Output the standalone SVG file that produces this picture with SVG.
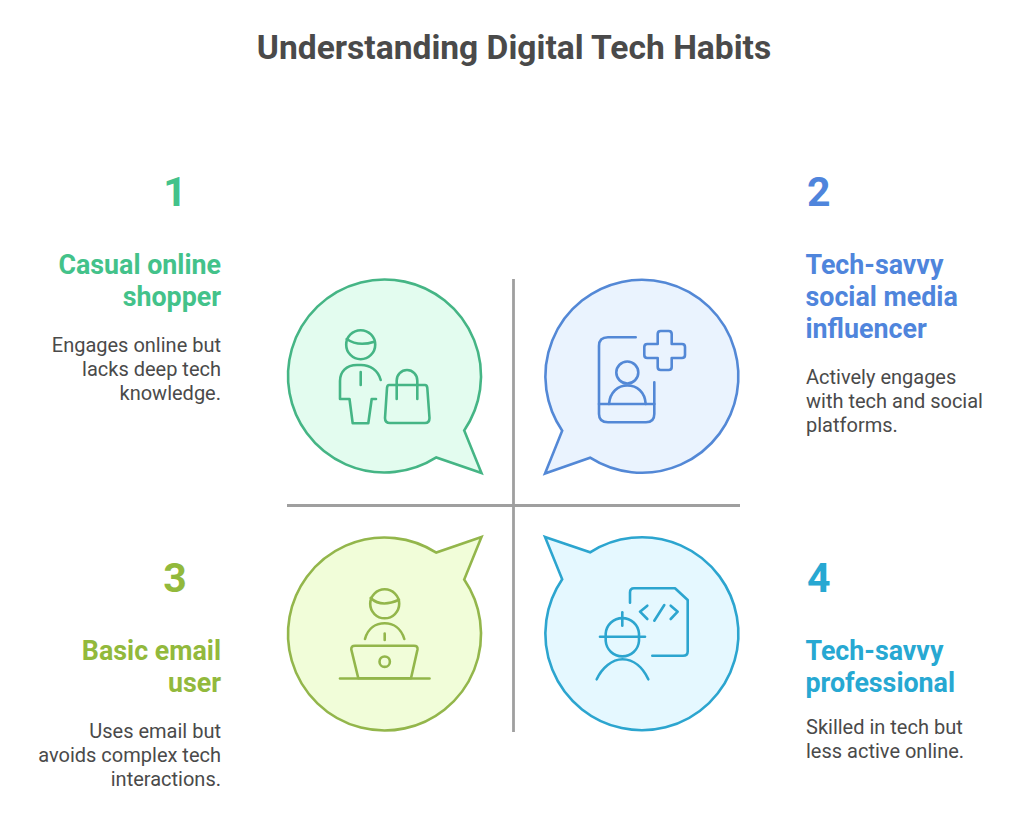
<svg xmlns="http://www.w3.org/2000/svg" width="1024" height="838" viewBox="0 0 1024 838">
<style>
text{font-family:Roboto,"Liberation Sans",sans-serif}
.title{font-size:33.6px;font-weight:700;fill:#4a4a4a}
.num{font-size:41px;font-weight:700}
.head{font-size:26.8px;font-weight:700}
.body{font-size:20px;fill:#4a4a4a}
.e{text-anchor:end}
.bubble{stroke-width:2.6}
.icon{fill:none;stroke-width:2.6;stroke-linecap:round;stroke-linejoin:round}
.axis{stroke:#9f9f9f;stroke-width:2.800;fill:none}
.g1{fill:#43c28a}.g2{fill:#4f85dc}.g3{fill:#92b93c}.g4{fill:#27a8d2}
</style>
<rect width="1024" height="838" fill="#ffffff"/>
<text class="title" x="514" y="58.500" text-anchor="middle">Understanding Digital Tech Habits</text>
<g id="connectors">
<path class="axis" d="M513.500 279V732"/>
<path class="axis" d="M287 505.500H740"/>
</g>
<g id="node-1">
<path class="bubble" fill="#e3fcef" stroke="#45b585" d="M481.500 473L436.300 457.400A96.500 96.500 0 1 1 464.200 430.400Z"/>
<g class="icon" stroke="#45b585">
<circle cx="360.700" cy="344.700" r="14.500"/>
<path d="M346.700 339Q358 347 374.300 341.700"/>
<path d="M380.700 380C378 370 370 365 361 365H357C346 365 340 372 340 381V399H349.500L352.700 423.300H368.300L371.700 399H376"/>
<path d="M360.700 372V385"/>
<path d="M389 385H425Q427 385 427.300 388L429.500 418Q429.500 423 425 423H390Q385 423 385 418L387 388Q387.300 385 389 385Z"/>
<path d="M396.700 399V380.500A10.300 10.500 0 0 1 417.300 380.500V399"/>
</g>
<text class="num g1" x="175" y="206" text-anchor="middle">1</text>
<text class="head g1 e" x="221" y="274">Casual online</text>
<text class="head g1 e" x="221" y="306">shopper</text>
<text class="body e" x="221" y="351.500">Engages online but</text>
<text class="body e" x="221" y="375.500">lacks deep tech</text>
<text class="body e" x="221" y="399.500">knowledge.</text>
</g>
<g id="node-2">
<path class="bubble" fill="#eaf3fe" stroke="#5388d6" d="M545 473.500L590.100 457.700A96.500 96.500 0 1 0 562.200 430.700Z"/>
<g class="icon" stroke="#5388d6">
<path d="M635.700 337.300H608Q599 337.300 599 346V414Q599 422.300 608 422.300H646Q654.300 422.300 654.300 414V382.300"/>
<path d="M599 404H654.300"/>
<circle cx="627.300" cy="372.500" r="11"/>
<path d="M609 404C610 392 618 385.500 627.300 385.500C637 385.500 645 392 645.700 404"/>
<path d="M660.700 331H668.700Q671.700 331 671.700 334V344H682Q685 344 685 347V355Q685 358 682 358H671.700V367Q671.700 370 668.700 370H660.700Q657.700 370 657.700 367V358H647.300Q644.300 358 644.300 355V347Q644.300 344 647.300 344H657.700V334Q657.700 331 660.700 331Z"/>
</g>
<text class="num g2" x="807" y="206">2</text>
<text class="head g2" x="805.500" y="274">Tech-savvy</text>
<text class="head g2" x="805.500" y="306">social media</text>
<text class="head g2" x="805.500" y="338">influencer</text>
<text class="body" x="806" y="383.500">Actively engages</text>
<text class="body" x="806" y="407.500">with tech and social</text>
<text class="body" x="806" y="431.500">platforms.</text>
</g>
<g id="node-3">
<path class="bubble" fill="#f1fdd9" stroke="#93b64b" d="M481.500 537L436.300 552.600A96.500 96.500 0 1 0 464.200 579.600Z"/>
<g class="icon" stroke="#93b64b">
<circle cx="384.700" cy="603.800" r="14.500"/>
<path d="M370.700 598Q381 608 399 599.800"/>
<path d="M365 639C368 628 376 623.300 384.700 623.300C393 623.300 401 628 404.300 639"/>
<path d="M384.700 633.500V640"/>
<path d="M355 645.700H414Q418 645.700 417.500 649.500L411 678.300H358.300L351.300 649.500Q351 645.700 355 645.700Z"/>
<circle cx="384.700" cy="661.700" r="5.200"/>
<path d="M340 678.500H429.500"/>
</g>
<text class="num g3" x="175" y="592" text-anchor="middle">3</text>
<text class="head g3 e" x="221" y="660">Basic email</text>
<text class="head g3 e" x="221" y="692">user</text>
<text class="body e" x="221" y="737.500">Uses email but</text>
<text class="body e" x="221" y="761.500">avoids complex tech</text>
<text class="body e" x="221" y="785.500">interactions.</text>
</g>
<g id="node-4">
<path class="bubble" fill="#e5f8ff" stroke="#2ca5cf" d="M545 537L590.100 552.300A96.500 96.500 0 1 1 562.200 579.300Z"/>
<g class="icon" stroke="#2ca5cf">
<path d="M630 602.700V592.500Q630 588.300 634 588.300H675L687.700 600V651.500Q687.700 655.700 683 655.700H652.300"/>
<path d="M647.300 605.700L640 611.700L647.300 619M670.700 605.700L677.700 611.700L670.700 619"/>
<path d="M664.300 605L654.300 620.700"/>
<path d="M605.700 636.700V633.500A16.700 16.700 0 0 1 639 633.500V641A16.700 16.700 0 0 1 605.700 641Z"/>
<path d="M622.300 612.300V625.700"/>
<path d="M600 636.700H645"/>
<path d="M596.700 679.300C602 668 612 659.300 622.500 659.300C634 659.300 643 668 648.300 679.300"/>
</g>
<text class="num g4" x="807" y="592">4</text>
<text class="head g4" x="805.500" y="660">Tech-savvy</text>
<text class="head g4" x="805.500" y="692">professional</text>
<text class="body" x="806" y="733.500">Skilled in tech but</text>
<text class="body" x="806" y="757.500">less active online.</text>
</g>
</svg>
